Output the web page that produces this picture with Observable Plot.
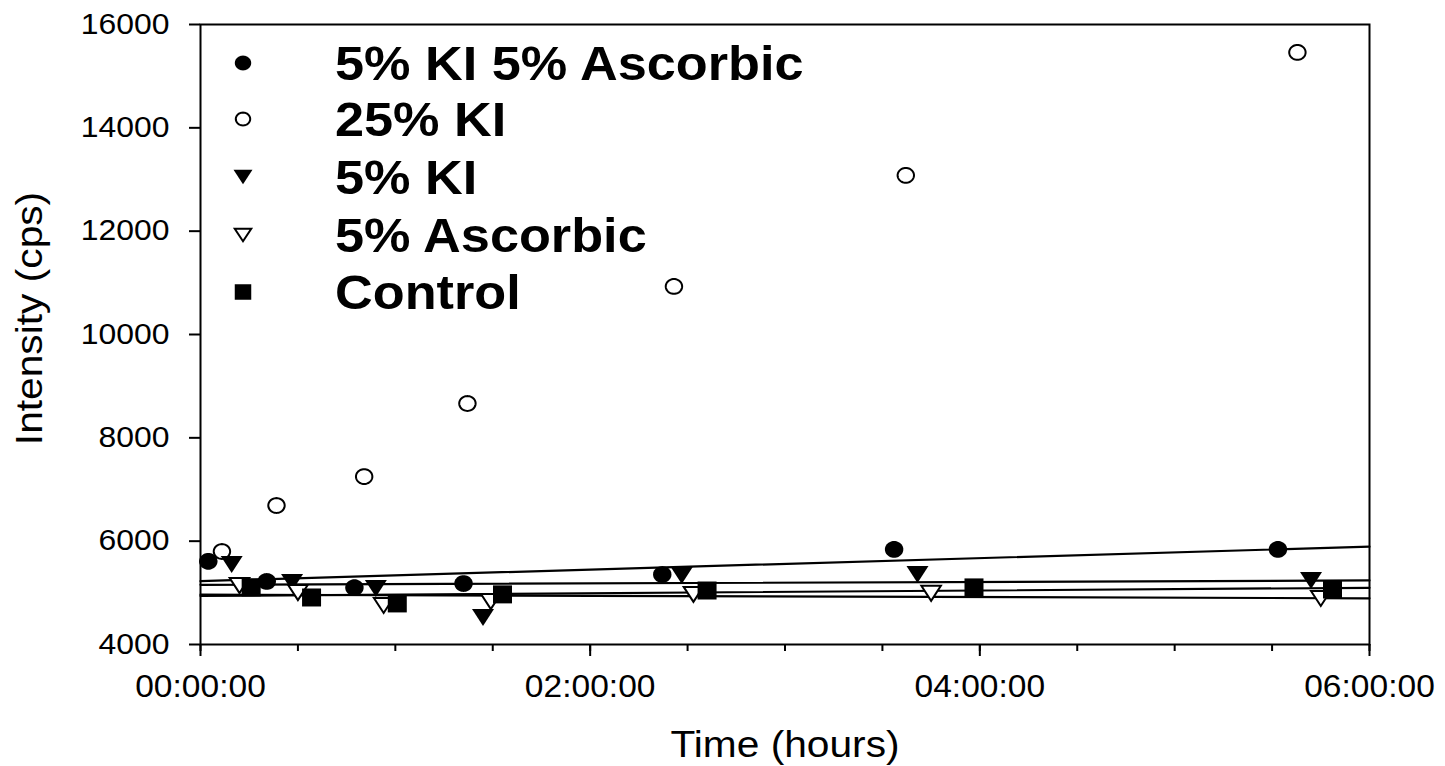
<!DOCTYPE html>
<html><head><meta charset="utf-8">
<script src="https://cdn.jsdelivr.net/npm/d3@7"></script>
<script src="https://cdn.jsdelivr.net/npm/@observablehq/plot@0.6"></script>
<style>
body{margin:0;background:#fff;}
#chart{width:1445px;height:766px;}
</style></head><body><div id="chart"></div>
<script>
// ---- data (time in hours, intensity in cps) ----
const seriesNames = ["5% KI 5% Ascorbic", "25% KI", "5% KI", "5% Ascorbic", "Control"];
const kiAscTime = [0.04, 0.34, 0.79, 1.35, 2.37, 3.56, 5.53];
const kiAscVal  = [5610, 5220, 5100, 5180, 5355, 5840, 5840];
const ki25Time  = [0.11, 0.39, 0.84, 1.37, 2.43, 3.62, 5.63];
const ki25Val   = [5800, 6690, 7250, 8665, 10930, 13080, 15460];
const ki5Time   = [0.16, 0.47, 0.90, 1.45, 2.47, 3.68, 5.70];
const ki5Val    = [5550, 5200, 5085, 4525, 5335, 5355, 5240];
const asc5Time  = [0.20, 0.50, 0.94, 1.49, 2.53, 3.75, 5.75];
const asc5Val   = [5140, 5005, 4755, 4830, 4970, 4990, 4890];
const ctrlTime  = [0.26, 0.57, 1.01, 1.55, 2.60, 3.97, 5.81];
const ctrlVal   = [5105, 4910, 4795, 4970, 5045, 5105, 5065];
const fitted    = ["5% KI 5% Ascorbic", "5% KI", "5% Ascorbic", "Control"];
const xTickLabels = [0, 2, 4, 6];
const yTickValues = [4000, 6000, 8000, 10000, 12000, 14000, 16000];

const times = [kiAscTime, ki25Time, ki5Time, asc5Time, ctrlTime];
const vals  = [kiAscVal, ki25Val, ki5Val, asc5Val, ctrlVal];
const points = seriesNames.flatMap((s, i) => times[i].map((t, j) => ({series: s, t, v: vals[i][j]})));

// ---- symbols (slightly wider than tall, like the reference) ----
function ellipse(rx, ry) { return {draw(ctx) { const n = 48; for (let i = 0; i < n; i++) { const a = 2 * Math.PI * i / n; const x = rx * Math.cos(a), y = ry * Math.sin(a); if (i) ctx.lineTo(x, y); else ctx.moveTo(x, y); } ctx.closePath(); }}; }
function triDown(w, h) { return {draw(ctx) { ctx.moveTo(-w / 2, -h / 2); ctx.lineTo(w / 2, -h / 2); ctx.lineTo(0, h / 2); ctx.closePath(); }}; }
function rect(w, h) { return {draw(ctx) { ctx.moveTo(-w / 2, -h / 2); ctx.lineTo(w / 2, -h / 2); ctx.lineTo(w / 2, h / 2); ctx.lineTo(-w / 2, h / 2); ctx.closePath(); }}; }

const styles = {
  "5% KI 5% Ascorbic": {sym: ellipse(9.2, 8.4), leg: ellipse(8.2, 7.4), fill: "black", stroke: "none"},
  "25% KI":            {sym: ellipse(8.2, 7.4), leg: ellipse(7.2, 6.4), fill: "white", stroke: "black"},
  "5% KI":             {sym: triDown(22, 17), leg: triDown(19, 14.5), fill: "black", stroke: "none"},
  "5% Ascorbic":       {sym: triDown(19.5, 15), leg: triDown(16.5, 12.5), fill: "white", stroke: "black"},
  "Control":           {sym: rect(19, 18), leg: rect(16.5, 15.5), fill: "black", stroke: "none"}
};

// ---- linear regression lines over the full x domain ----
const xDomain = [0, 6];
const regData = fitted.flatMap(s => {
  const d = points.filter(p => p.series === s);
  const mt = d3.mean(d, p => p.t), mv = d3.mean(d, p => p.v);
  const m = d3.sum(d, p => (p.t - mt) * (p.v - mv)) / d3.sum(d, p => (p.t - mt) ** 2);
  const b = mv - m * mt;
  return xDomain.map(t => ({series: s, t, v: b + m * t}));
});

const pad = n => String(n).padStart(2, "0");
const SX = 1.1;
const FONT = "Arial, 'Liberation Sans', sans-serif";

const plot = Plot.plot({
  width: 1445, height: 766,
  marginLeft: 200, marginRight: 76, marginTop: 24, marginBottom: 122,
  x: {domain: xDomain},
  y: {domain: [4000, 16000]},
  style: {fontFamily: FONT, fontSize: "28px", color: "black", background: "white", overflow: "visible"},
  marks: [
    Plot.axisX({ticks: d3.range(0, 6.001, 0.5), tickSize: 7, tickFormat: () => "", strokeWidth: 2, label: null}),
    Plot.axisX({ticks: xTickLabels, tickSize: 12, tickPadding: 19, strokeWidth: 2, fontSize: 30.5,
      tickFormat: h => `${pad(h)}:00:00`, label: null}),
    Plot.axisY({ticks: yTickValues, tickSize: 11, tickPadding: 20, strokeWidth: 2, fontSize: 29,
      tickFormat: d => String(d), label: null}),
    Plot.frame({strokeWidth: 2, stroke: "black"}),
    Plot.line(regData, {x: "t", y: "v", z: "series", stroke: "black", strokeWidth: 2.2}),
    ...seriesNames.map(s => Plot.dot(points.filter(p => p.series === s), {
      x: "t", y: "v", symbol: styles[s].sym, r: 8,
      fill: styles[s].fill, stroke: styles[s].stroke, strokeWidth: 2
    })),
    Plot.text(["Time (hours)"], {frameAnchor: "bottom", dy: 101, fontSize: 37, lineAnchor: "middle", textAnchor: "middle", text: d => d}),
    Plot.text(["Intensity (cps)"], {frameAnchor: "left", dx: -170, dy: -16, rotate: -90, fontSize: 37, lineAnchor: "middle", textAnchor: "middle", text: d => d})
  ]
});

document.getElementById("chart").append(plot);

// ---- in-plot legend ----
const svg = d3.select(plot);
const leg = svg.append("g").attr("font-family", FONT).attr("text-anchor", "start");
const rowY = [63, 119, 177, 235, 292];
seriesNames.forEach((s, i) => {
  leg.append("path").attr("d", d3.symbol(styles[s].leg)())
    .attr("transform", `translate(243,${rowY[i]})`)
    .attr("fill", styles[s].fill).attr("stroke", styles[s].stroke).attr("stroke-width", 2);
  leg.append("text").attr("x", 335).attr("y", rowY[i]).attr("dy", "0.36em")
    .attr("font-size", 47.5).attr("font-weight", "bold").attr("text-anchor", "start").text(s);
});

// the reference's lettering is slightly wider than Arial: stretch horizontally
plot.querySelectorAll("text").forEach(el => {
  const L = el.getComputedTextLength();
  if (L > 0) { el.setAttribute("textLength", L * SX); el.setAttribute("lengthAdjust", "spacingAndGlyphs"); }
});
</script></body></html>
